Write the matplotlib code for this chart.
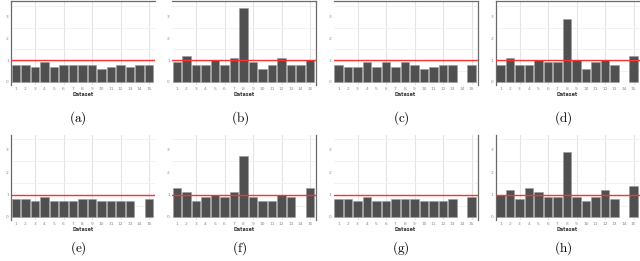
import matplotlib
matplotlib.use("Agg")
import matplotlib.pyplot as plt
import numpy as np

datasets = list(range(1, 16))
nan = float("nan")
vals_a = [0.8, 0.8, 0.7, 0.9, 0.7, 0.8, 0.8, 0.8, 0.8, 0.6, 0.7, 0.8, 0.7, 0.8, 0.8]
vals_b = [0.9, 1.2, 0.8, 0.8, 1.0, 0.8, 1.1, 3.4, 0.9, 0.6, 0.8, 1.1, 0.8, 0.8, 1.0]
vals_c = [0.8, 0.7, 0.7, 0.9, 0.7, 0.9, 0.7, 0.9, 0.8, 0.6, 0.7, 0.8, 0.8, nan, 0.8]
vals_d = [0.8, 1.1, 0.8, 0.8, 1.0, 0.9, 0.9, 2.9, 1.0, 0.6, 0.9, 1.0, 0.8, nan, 1.2]
vals_e = [0.8, 0.8, 0.7, 0.9, 0.7, 0.7, 0.7, 0.8, 0.8, 0.7, 0.7, 0.7, 0.7, nan, 0.8]
vals_f = [1.3, 1.1, 0.7, 0.9, 1.0, 0.9, 1.1, 2.7, 0.9, 0.7, 0.7, 1.0, 0.9, nan, 1.3]
vals_g = [0.8, 0.8, 0.7, 0.9, 0.7, 0.7, 0.8, 0.8, 0.8, 0.7, 0.7, 0.7, 0.8, nan, 0.9]
vals_h = [1.0, 1.2, 0.8, 1.3, 1.1, 0.9, 0.9, 2.9, 0.9, 0.7, 0.9, 1.2, 0.8, nan, 1.4]
captions = ["(a)", "(b)", "(c)", "(d)", "(e)", "(f)", "(g)", "(h)"]
y_ticks = [0, 1, 2, 3]
reference_value = 1.0
x_label = "Dataset"

panels = [vals_a, vals_b, vals_c, vals_d, vals_e, vals_f, vals_g, vals_h]
spine_sides = [("left", "top"), ("right", "top"), ("right", "top"), ("left", "top"),
               ("left",), ("right",), ("right",), ("left",)]

plt.rcParams["mathtext.fontset"] = "cm"

W, H = 640, 261
fig = plt.figure(figsize=(6.4, 2.61), dpi=100)

col_left = [11, 172, 333.5, 495.5]
ax_w = 144
row_top = [1, 135]
ax_h = [84, 85]
cap_y = [118, 248]
cap_x = [78, 240, 401, 563]

for i, vals in enumerate(panels):
    r, c = divmod(i, 4)
    L = col_left[c]
    T = row_top[r]
    ax = fig.add_axes([L / W, 1 - (T + ax_h[r]) / H, ax_w / W, ax_h[r] / H])
    ax.set_xlim(0.47, 15.63)
    ax.set_ylim(-0.14, 3.73 if r == 0 else 3.66)
    v = np.array(vals, dtype=float)
    ax.bar(datasets, v, width=0.9, color="#505050", edgecolor="#9a9a9a", linewidth=0.4, zorder=2)
    ax.axhline(reference_value, color="#ff3030", lw=1.0, zorder=3)
    for gx in [3, 6, 9, 12, 15]:
        ax.axvline(gx, color="#e3e3e3", lw=0.8, zorder=0)
    for gy in [0.5, 1.5, 2.5, 3.5]:
        ax.axhline(gy, color="#f0f0f0", lw=0.6, zorder=0)
    ax.set_xticks(datasets)
    ax.set_xticklabels([str(d) for d in datasets], fontsize=3.2, color="#8a8a8a")
    ax.set_yticks(y_ticks)
    ax.set_yticklabels([str(t) for t in y_ticks], fontsize=3.2, color="#8a8a8a")
    ax.tick_params(length=0, pad=1.5)
    ax.set_xlabel(x_label, fontsize=3.4, fontweight="bold", color="#333333", labelpad=0.5)
    for s in ["left", "right", "top", "bottom"]:
        if s in spine_sides[i]:
            ax.spines[s].set_color("#6a6a6a")
            ax.spines[s].set_linewidth(0.9)
        else:
            ax.spines[s].set_visible(False)
    fig.text(cap_x[c] / W, 1 - cap_y[r] / H, r"$\mathrm{" + captions[i] + "}$",
             ha="center", va="center", fontsize=9.5)

fig.savefig("out.png", dpi=100)
